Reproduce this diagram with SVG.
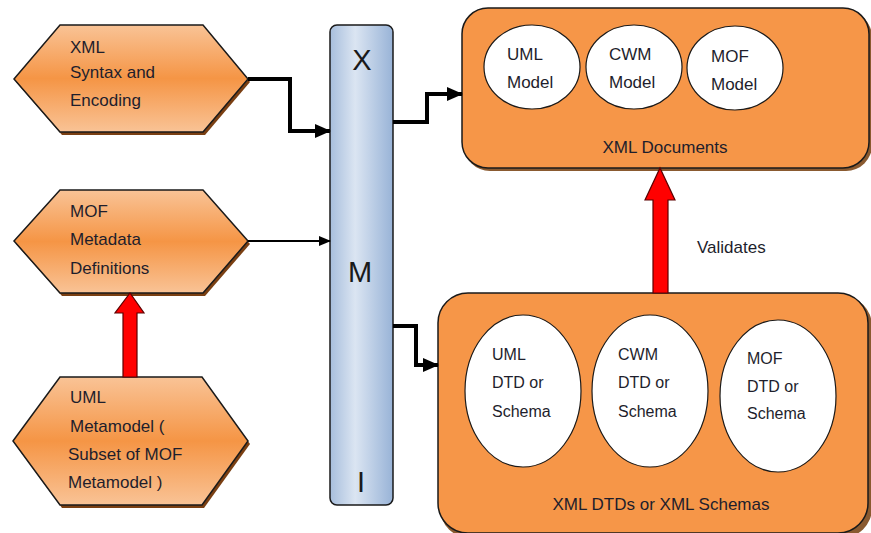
<svg xmlns="http://www.w3.org/2000/svg" width="871" height="533" viewBox="0 0 871 533">
  <defs>
    <linearGradient id="hexFill" x1="0" y1="0" x2="0" y2="1">
      <stop offset="0" stop-color="#f9c396"/>
      <stop offset="0.5" stop-color="#f59545"/>
      <stop offset="1" stop-color="#f9c396"/>
    </linearGradient>
    <linearGradient id="barFill" x1="0" y1="0" x2="1" y2="0">
      <stop offset="0" stop-color="#a7bedc"/>
      <stop offset="0.4" stop-color="#dbe5f2"/>
      <stop offset="1" stop-color="#98b3d7"/>
    </linearGradient>
    <marker id="headThick" markerUnits="userSpaceOnUse" markerWidth="16" markerHeight="16" viewBox="0 0 16 16" refX="15" refY="8" orient="auto">
      <path d="M0,1 L16,8 L0,15 Z" fill="#000"/>
    </marker>
    <marker id="headThin" markerUnits="userSpaceOnUse" markerWidth="12" markerHeight="12" viewBox="0 0 12 12" refX="11" refY="6" orient="auto">
      <path d="M0,1 L12,6 L0,11 Z" fill="#000"/>
    </marker>
  </defs>
  <style>
    .hex { fill: url(#hexFill); stroke: #1a1a1a; stroke-width: 1.5; }
    .hexShadow { fill: #7a3f12; }
    .box { fill: #f69648; stroke: #1a1a1a; stroke-width: 1.5; }
    .boxShadow { fill: #8a5a30; }
    .oval { fill: #ffffff; stroke: #1a1a1a; stroke-width: 1.2; }
    .bar { fill: url(#barFill); stroke: #1a1a1a; stroke-width: 1.5; }
    .label { font-family: "Liberation Sans", Arial, sans-serif; font-size: 17px; fill: #1e1e2c; }
    .small { font-size: 16px; }
    .big { font-family: "Liberation Sans", Arial, sans-serif; font-size: 29px; fill: #1a1a1a; text-anchor: middle; }
    .conn { fill: none; stroke: #000; stroke-linejoin: miter; }
    .thick { stroke-width: 4; }
    .thin { stroke-width: 2; }
    .redArrow { fill: #ff0000; stroke: #5a0000; stroke-width: 1.2; }
  </style>

  <!-- source hexagons -->
  <g id="xml-syntax">
    <polygon class="hexShadow" points="16,82 62,28 205,28 250,82 205,135 62,135"/>
    <polygon class="hex" points="14,79 60,25 203,25 248,79 203,132 60,132"/>
    <text class="label" x="70" y="53">XML</text>
    <text class="label" x="70" y="78">Syntax and</text>
    <text class="label" x="70" y="106">Encoding</text>
  </g>

  <g id="mof-metadata">
    <polygon class="hexShadow" points="16,244 62,193 205,193 250,244 205,296 62,296"/>
    <polygon class="hex" points="14,241 60,190 203,190 248,241 203,293 60,293"/>
    <text class="label" x="70" y="217">MOF</text>
    <text class="label" x="70" y="245">Metadata</text>
    <text class="label" x="70" y="274">Definitions</text>
  </g>

  <g id="uml-metamodel">
    <polygon class="hexShadow" points="15,444 62,380 204,380 250,444 204,508 62,508"/>
    <polygon class="hex" points="13,441 60,377 202,377 248,441 202,505 60,505"/>
    <text class="label" x="70" y="403">UML</text>
    <text class="label" x="70" y="432"> Metamodel (</text>
    <text class="label" x="68" y="460">Subset of MOF</text>
    <text class="label" x="68" y="488">Metamodel )</text>
  </g>

  <!-- XMI bar -->
  <g id="xmi">
    <rect class="bar" x="330" y="25" width="63" height="480" rx="7" ry="7"/>
    <text class="big" x="362" y="70">X</text>
    <text class="big" x="360" y="282">M</text>
    <text class="big" x="361" y="492">I</text>
  </g>

  <!-- target containers -->
  <g id="xml-documents">
    <rect class="boxShadow" x="464" y="11" width="408" height="160" rx="26" ry="26"/>
    <rect class="box" x="462" y="8" width="407" height="160" rx="26" ry="26"/>
    <ellipse class="oval" cx="532" cy="67" rx="48" ry="42"/>
    <ellipse class="oval" cx="634" cy="67" rx="48" ry="42"/>
    <ellipse class="oval" cx="735" cy="68" rx="48" ry="42"/>
    <text class="label" x="507" y="60">UML</text>
    <text class="label" x="507" y="88">Model</text>
    <text class="label" x="609" y="60">CWM</text>
    <text class="label" x="609" y="88">Model</text>
    <text class="label" x="711" y="62">MOF</text>
    <text class="label" x="711" y="90">Model</text>
    <text class="label" x="665" y="153" text-anchor="middle">XML Documents</text>
  </g>

  <g id="xml-schemas">
    <rect class="boxShadow" x="440" y="296" width="432" height="242" rx="30" ry="30"/>
    <rect class="box" x="438" y="293" width="430" height="240" rx="30" ry="30"/>
    <ellipse class="oval" cx="523" cy="391" rx="58" ry="76"/>
    <ellipse class="oval" cx="650" cy="391" rx="58" ry="76"/>
    <ellipse class="oval" cx="778" cy="396" rx="58" ry="76"/>
    <text class="label small" x="492" y="360">UML</text>
    <text class="label small" x="492" y="388">DTD or</text>
    <text class="label small" x="492" y="417">Schema</text>
    <text class="label small" x="618" y="360">CWM</text>
    <text class="label small" x="618" y="388">DTD or</text>
    <text class="label small" x="618" y="417">Schema</text>
    <text class="label small" x="747" y="364">MOF</text>
    <text class="label small" x="747" y="392">DTD or</text>
    <text class="label small" x="747" y="419">Schema</text>
    <text class="label" x="661" y="510" text-anchor="middle">XML DTDs  or XML Schemas</text>
  </g>

  <!-- connectors -->
  <g id="connectors">
    <path class="conn thick" d="M248,79 H290 V131 H330" marker-end="url(#headThick)"/>
    <path class="conn thin" d="M248,241 H330" marker-end="url(#headThin)"/>
    <path class="conn thick" d="M393,122 H427 V94 H462" marker-end="url(#headThick)"/>
    <path class="conn thick" d="M393,326 H416 V365 H438" marker-end="url(#headThick)"/>
    <polygon class="redArrow" points="123,377 123,313 115,313 130,293 144,313 137,313 137,377"/>
    <polygon class="redArrow" points="653,293 653,200 645,200 660,168 675,200 668,200 668,293"/>
    <text class="label" x="697" y="253">Validates</text>
  </g>
</svg>
